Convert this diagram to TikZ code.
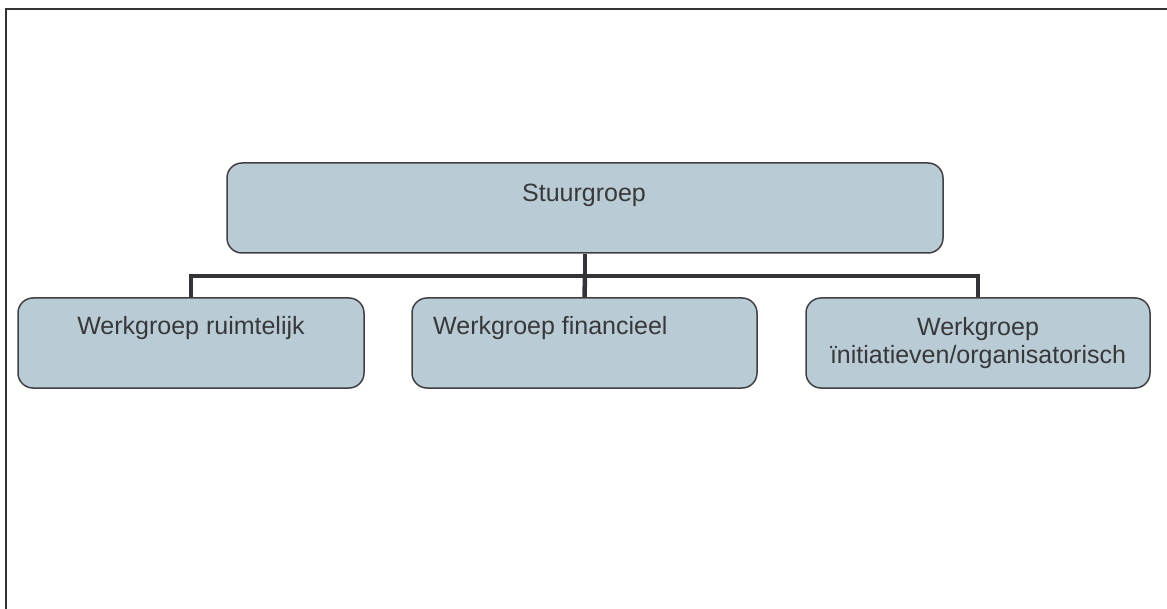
\documentclass[tikz,border=0pt]{standalone}
\usepackage{fontspec}
\setmainfont{Liberation Sans}
\usetikzlibrary{backgrounds}
\definecolor{boxfill}{RGB}{185,204,213}
\definecolor{boxdraw}{RGB}{64,64,66}
\definecolor{conncol}{RGB}{52,52,56}
\definecolor{txtcol}{RGB}{56,56,58}
\tikzset{
  orgbox/.style={draw=boxdraw, fill=boxfill, line width=1.5pt, rounded corners=15pt, inner sep=0pt},
  conn/.style={draw=conncol, line width=4.5pt},
  lbl/.style={text=txtcol, inner sep=0pt, font=\fontsize{25pt}{28pt}\selectfont},
  frame/.style={draw=conncol, line width=2.5pt}
}
\begin{document}
\begin{tikzpicture}[x=1pt,y=-1pt]
\useasboundingbox (0,0) rectangle (1167,609);
\draw[frame] (6,611) -- (6,9) -- (1169,9);
% boxes
\node[orgbox, minimum width=716pt, minimum height=90pt] (s) at (585,208) {};
\node[orgbox, minimum width=346pt, minimum height=90pt] (w1) at (191,343) {};
\node[orgbox, minimum width=345pt, minimum height=90pt] (w2) at (584.5,343) {};
\node[orgbox, minimum width=344pt, minimum height=90pt] (w3) at (978,343) {};
% labels
\node[lbl, anchor=base] (ts) at (584,202) {Stuurgroep};
\node[lbl, anchor=base] (t1) at (191,335) {Werkgroep ruimtelijk};
\node[lbl, anchor=base west] (t2) at (433,335) {Werkgroep financieel};
\node[lbl, anchor=base, align=center] (t3) at (978,363) {Werkgroep\\ïnitiatieven/organisatorisch};
% connectors
\coordinate (bus) at (585,276);
\begin{scope}[on background layer]
\draw[conn] (s.south) -- (bus);
\draw[conn] (bus) -- (w2.north);
\draw[conn] (w1.north) |- (bus) -| (w3.north);
\end{scope}
\end{tikzpicture}
\end{document}
